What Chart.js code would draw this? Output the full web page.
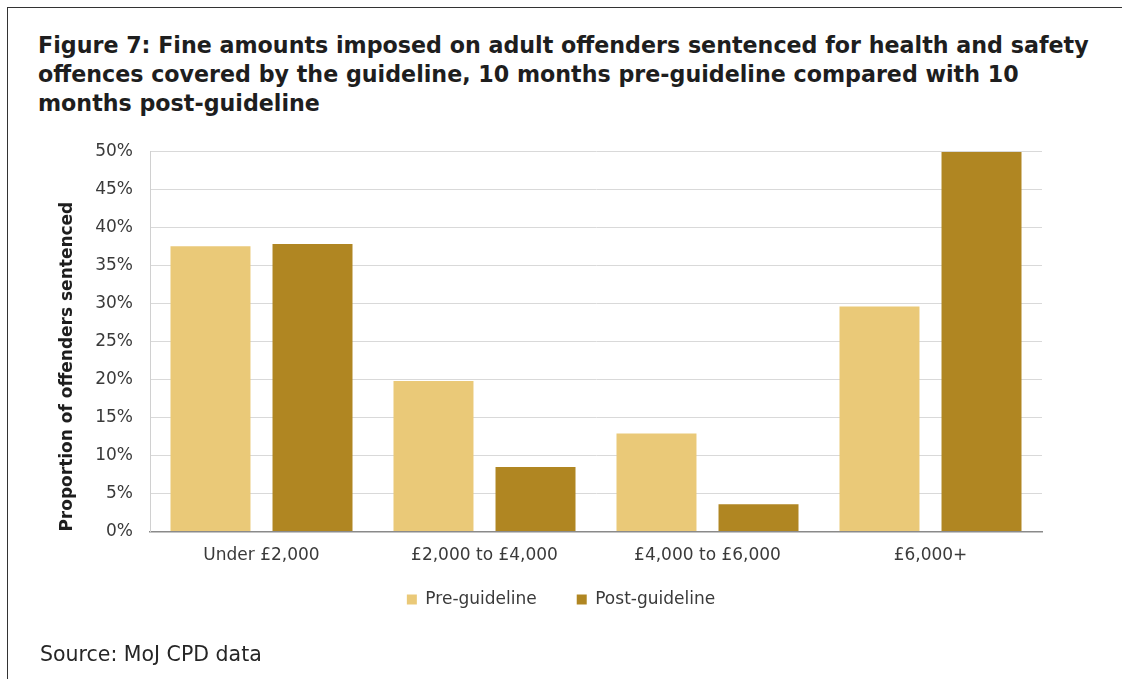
<!DOCTYPE html>
<html>
<head>
<meta charset="utf-8">
<script src="https://cdn.jsdelivr.net/npm/chart.js@4/dist/chart.umd.min.js"></script>
<style>
    body { margin: 0; background: #fff; width: 1122px; height: 679px; overflow: hidden; position: relative; font-family: "DejaVu Sans", sans-serif; }
    #marco { position: absolute; left: 7px; top: 7px; right: -2px; bottom: -2px; border-top: 1.5px solid #333; border-left: 1.5px solid #333; }
    #titulo { position: absolute; left: 38px; top: 31px; font-weight: bold; font-size: 22.2px; line-height: 29px; color: #1e1e1e; white-space: nowrap; }
    #fuente { position: absolute; left: 40px; top: 642px; font-size: 20.5px; color: #262626; white-space: nowrap; }
    #contenedor-grafico { position: absolute; left: 0; top: 124px; width: 1122px; height: 523px; }
</style>
</head>
<body>
<div id="marco"></div>
<div id="titulo">Figure 7: Fine amounts imposed on adult offenders sentenced for health and safety<br>offences covered by the guideline, 10 months pre-guideline compared with 10<br>months post-guideline</div>
<div id="contenedor-grafico"><canvas id="graficoMultas"></canvas></div>
<div id="fuente">Source: MoJ CPD data</div>

<script>
// DATOS (porcentajes)
const categorias = ["Under £2,000", "£2,000 to £4,000", "£4,000 to £6,000", "£6,000+"];
const preGuideline = [37.5, 19.8, 12.9, 29.6];
const postGuideline = [37.8, 8.5, 3.6, 49.9];
const etiquetasSeries = ["Pre-guideline", "Post-guideline"];

const colorPre = "#EAC978";
const colorPost = "#B08622";
const colorTexto = "#3a3a3a";

// sube la leyenda para que quede pegada a las etiquetas del eje x
const subirLeyenda = {
    id: "subirLeyenda",
    afterLayout(chart) {
        if (chart.legend) {
            chart.legend.top -= 29;
            chart.legend.bottom -= 29;
        }
    }
};

document.addEventListener("DOMContentLoaded", function () {
    const canvas = document.getElementById("graficoMultas");

    const data = {
        labels: categorias,
        datasets: [{
            label: etiquetasSeries[0],
            data: preGuideline,
            backgroundColor: colorPre,
            categoryPercentage: 0.915,
            barPercentage: 0.784
        },
        {
            label: etiquetasSeries[1],
            data: postGuideline,
            backgroundColor: colorPost,
            categoryPercentage: 0.915,
            barPercentage: 0.784
        }]
    };

    new Chart(canvas, {
        type: "bar",
        data: data,
        plugins: [subirLeyenda],
        options: {
            responsive: true,
            maintainAspectRatio: false,
            animation: false,
            layout: { padding: 0 },
            plugins: {
                tooltip: { enabled: false },
                legend: {
                    position: "bottom",
                    labels: {
                        boxWidth: 10,
                        boxHeight: 10,
                        padding: 40,
                        color: colorTexto,
                        font: { family: "DejaVu Sans", size: 17 }
                    }
                }
            },
            scales: {
                x: {
                    grid: { display: false, drawTicks: false },
                    border: { color: "#8a8a8a", width: 1.5 },
                    ticks: {
                        padding: 14,
                        color: colorTexto,
                        font: { family: "DejaVu Sans", size: 17 }
                    }
                },
                y: {
                    min: 0,
                    max: 50,
                    grid: {
                        drawTicks: false,
                        color: function (ctx) { return ctx.tick && ctx.tick.value === 0 ? "#8a8a8a" : "#d9d9d9"; }
                    },
                    border: { color: "#d0d0d0" },
                    ticks: {
                        stepSize: 5,
                        padding: 17,
                        color: colorTexto,
                        font: { family: "DejaVu Sans", size: 17 },
                        callback: function (valor) { return valor + "%"; }
                    },
                    title: {
                        display: true,
                        text: "Proportion of offenders sentenced",
                        align: "start",
                        color: "#1e1e1e",
                        padding: { top: 57, bottom: 0 },
                        font: { family: "DejaVu Sans", size: 17, weight: "bold" }
                    },
                    afterFit: function (escala) { escala.width = 150; }
                },
                // eje invisible para dejar el margen derecho del grafico
                margen: {
                    type: "linear",
                    position: "right",
                    grid: { display: false, drawTicks: false },
                    border: { display: false },
                    ticks: { display: false },
                    afterFit: function (escala) { escala.width = 80; }
                }
            }
        }
    });
});
</script>
</body>
</html>
